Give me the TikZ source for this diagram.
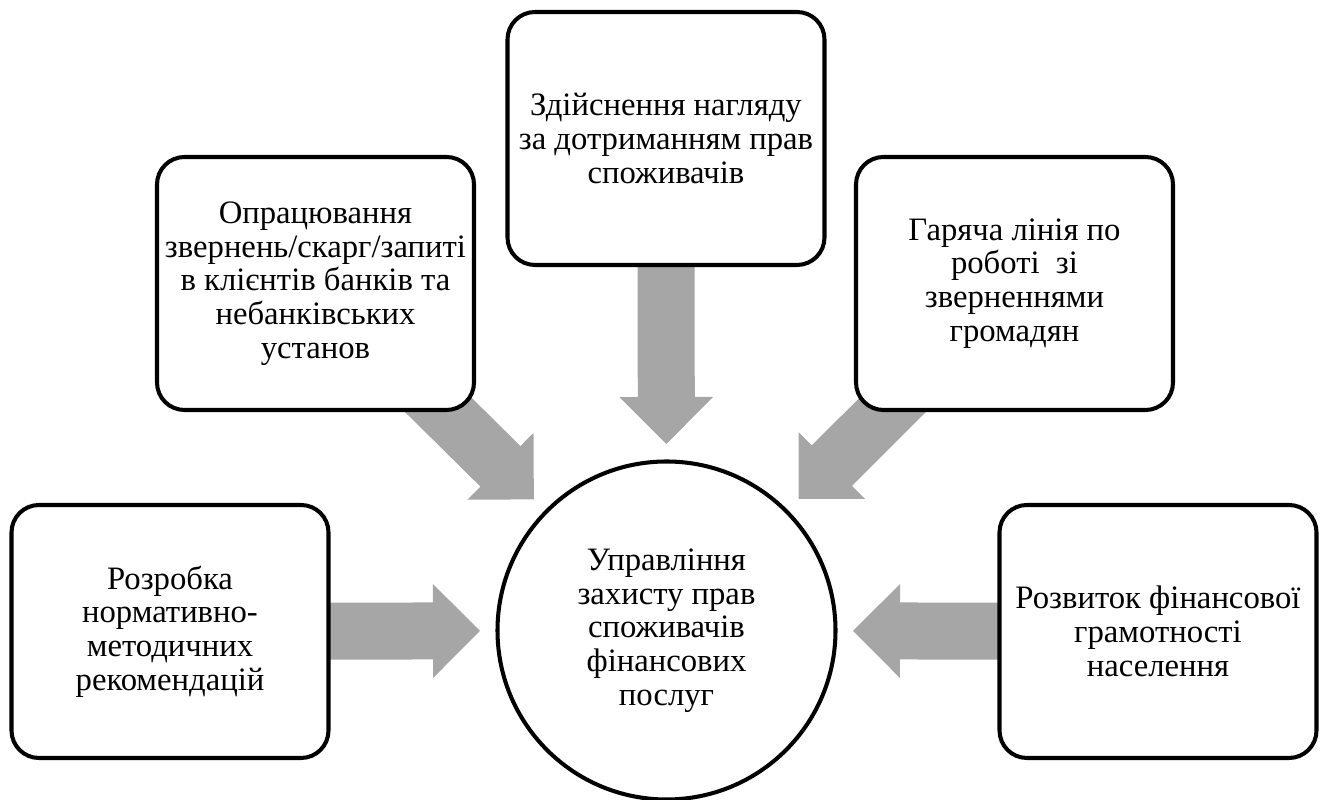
\documentclass[tikz,border=0pt]{standalone}
\usepackage{fontspec}
\setmainfont{Liberation Serif}
\usetikzlibrary{calc,positioning}
\pgfdeclarelayer{back}
\pgfsetlayers{back,main}
\definecolor{arrowgray}{HTML}{A6A6A6}
\tikzset{
  itembox/.style={draw, fill=white, line width=2.3pt, rounded corners=0.55cm,
    minimum width=6.34cm, minimum height=5.06cm, align=center, inner sep=2pt,
    font={\fontsize{18.6}{19.2}\selectfont\lineskiplimit=-20pt}},
  hubcircle/.style={draw, fill=white, circle, line width=2.3pt,
    minimum size=6.76cm, align=center, inner sep=0pt,
    font={\fontsize{18.6}{19.2}\selectfont\lineskiplimit=-20pt}}
}
%% block arrow from node #1 towards node #2, tip 0.31cm short of its border
\newcommand{\blockarrow}[2]{%
  \path (#1.center) -- (#2) coordinate[pos=1] (edge);
  \coordinate (tip) at ($(edge)!0.31cm!(#1.center)$);
  \coordinate (neck) at ($(tip)!0.94cm!(#1.center)$);
  \fill[arrowgray] ($(#1.center)!0.57cm!90:(tip)$) -- ($(neck)!0.57cm!90:(tip)$)
    -- ($(neck)!0.94cm!90:(tip)$) -- (tip) -- ($(neck)!0.94cm!-90:(tip)$)
    -- ($(neck)!0.57cm!-90:(tip)$) -- ($(#1.center)!0.57cm!-90:(tip)$) -- cycle;
}
\begin{document}
\begin{tikzpicture}
        \useasboundingbox (0, 0) rectangle (26.46, 16);

        %% centre
        \node[hubcircle] (hub) at (13.33, 3.39)
            {Управління\\захисту прав\\споживачів\\фінансових\\послуг};

        %% boxes
        \node[itembox] (rules) at (3.40, 3.37)
            {Розробка\\нормативно-\\методичних\\рекомендацій};
        \node[itembox] (claims) at (6.31, 10.33)
            {Опрацювання\\звернень/скарг/запиті\\в клієнтів банків та\\небанківських\\установ};
        \node[itembox] (watch) at (13.32, 13.23)
            {Здійснення нагляду\\за дотриманням прав\\споживачів};
        \node[itembox] (hotline) at (20.29, 10.33)
            {Гаряча лінія по\\роботі\ \ зі\\зверненнями\\громадян};
        \node[itembox] (literacy) at (23.16, 3.37)
            {Розвиток фінансової\\грамотності\\населення};

        %% arrows
        \begin{pgfonlayer}{back}
        \blockarrow{rules}{hub}
        \blockarrow{claims}{hub}
        \blockarrow{watch}{hub}
        \blockarrow{hotline}{hub}
        \blockarrow{literacy}{hub}
        \end{pgfonlayer}
\end{tikzpicture}
\end{document}
